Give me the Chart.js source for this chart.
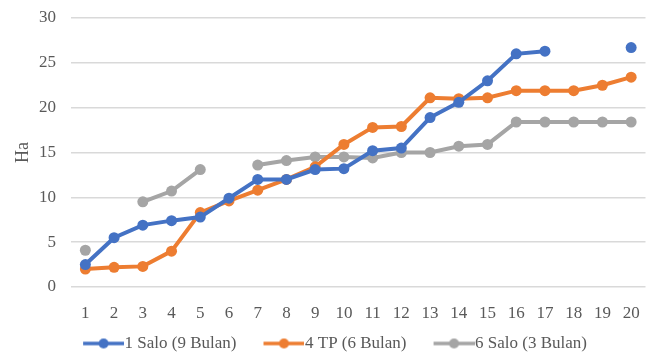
<!DOCTYPE html>
<html>
<head>
<meta charset="utf-8">
<script src="https://cdn.jsdelivr.net/npm/chart.js@4/dist/chart.umd.min.js"></script>
<style>
  html, body { margin: 0; padding: 0; background: #fff; }
  #wrap { width: 651px; height: 353px; }
</style>
</head>
<body>
<div id="wrap"><canvas id="lineChart"></canvas></div>
<script>
// data
const labels = ['1','2','3','4','5','6','7','8','9','10','11','12','13','14','15','16','17','18','19','20'];
const salo1 = [2.5, 5.5, 6.9, 7.4, 7.8, 9.9, 12.0, 12.0, 13.1, 13.2, 15.2, 15.5, 18.9, 20.6, 23.0, 26.0, 26.3, null, null, 26.7];
const tp4 = [2.0, 2.2, 2.3, 4.0, 8.3, 9.6, 10.8, 12.0, 13.4, 15.9, 17.8, 17.9, 21.1, 21.0, 21.1, 21.9, 21.9, 21.9, 22.5, 23.4];
const salo6 = [4.1, null, 9.5, 10.7, 13.1, null, 13.6, 14.1, 14.5, 14.5, 14.4, 15.0, 15.0, 15.7, 15.9, 18.4, 18.4, 18.4, 18.4, 18.4];
const seriesNames = ['1 Salo (9 Bulan)', '4 TP (6 Bulan)', '6 Salo (3 Bulan)'];
const colors = ['#4472C4', '#ED7D31', '#A5A5A5'];

const font = "'Liberation Serif', 'Times New Roman', serif";

// line+dot swatch for the legend, like excel does.
// blank space on the left gives the gap between the legend items
function legendIcon(color) {
    const c = document.createElement('canvas');
    c.width = 72;
    c.height = 12;
    const g = c.getContext('2d');
    g.strokeStyle = color;
    g.lineWidth = 3.5;
    g.beginPath();
    g.moveTo(31, 6);
    g.lineTo(72, 6);
    g.stroke();
    g.fillStyle = color;
    g.beginPath();
    g.arc(51.5, 6, 5, 0, Math.PI * 2);
    g.fill();
    return c;
}

function makeSet(name, data, color) {
    return {
        label: name,
        data: data,
        borderColor: color,
        backgroundColor: color,
        borderWidth: 4,
        pointRadius: 5.5,
        pointHoverRadius: 5.5,
        pointBorderWidth: 0,
        tension: 0,
        spanGaps: false
    };
}

const ctx = document.getElementById('lineChart').getContext('2d');
new Chart(ctx, {
    type: 'line',
    data: {
        labels: labels,
        datasets: [
            makeSet(seriesNames[0], salo1, colors[0]),
            makeSet(seriesNames[1], tp4, colors[1]),
            makeSet(seriesNames[2], salo6, colors[2])
        ]
    },
    options: {
        responsive: true,
        maintainAspectRatio: false,
        animation: false,
        layout: { padding: { top: 18, right: 4, left: 0, bottom: -9 } },
        plugins: {
            tooltip: { enabled: false },
            legend: {
                position: 'bottom',
                labels: {
                    usePointStyle: true,
                    pointStyleWidth: 56,
                    color: '#595959',
                    font: { family: font, size: 17 },
                    padding: 4,
                    generateLabels: (chart) => chart.data.datasets.map((ds, i) => ({
                        text: ds.label,
                        pointStyle: legendIcon(colors[i]),
                        fontColor: '#595959',
                        datasetIndex: i,
                        lineWidth: 0
                    }))
                }
            }
        },
        scales: {
            x: {
                offset: true,
                grid: { display: false },
                border: { display: false },
                afterFit: (scale) => { scale.height = 44; },
                ticks: {
                    color: '#595959',
                    font: { family: font, size: 17 },
                    maxRotation: 0,
                    autoSkip: false,
                    padding: 8
                }
            },
            y: {
                min: 0,
                max: 30,
                grid: { color: '#D9D9D9', lineWidth: 1.5, drawTicks: false },
                border: { display: false },
                afterFit: (scale) => {
                    scale.width = 71;
                    // let layout padding alone decide where the top gridline sits
                    scale.paddingTop = 0;
                    scale.paddingBottom = 0;
                },
                ticks: {
                    stepSize: 5,
                    color: '#595959',
                    font: { family: font, size: 17 },
                    padding: 15
                },
                title: {
                    display: true,
                    text: 'Ha',
                    color: '#595959',
                    font: { family: font, size: 18 },
                    padding: { top: 12, bottom: 0 }
                }
            }
        }
    }
});
</script>
</body>
</html>
